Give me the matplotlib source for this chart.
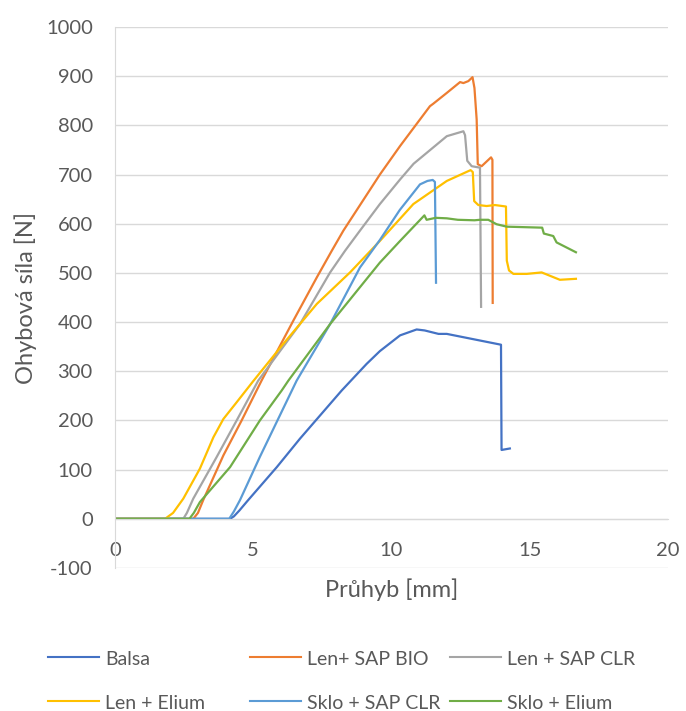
import matplotlib
matplotlib.use("Agg")
import matplotlib.pyplot as plt
from matplotlib.lines import Line2D

plt.rcParams['font.family'] = ['Lato', 'DejaVu Sans']
plt.rcParams['axes.unicode_minus'] = False

# hodnoty: prumyb [mm] a ohybova sila [N]
balsa_x = [0, 4.16, 4.3, 4.5, 4.8, 5.85, 6.69, 8.2, 9.1, 9.58, 10.31, 10.91, 11.2, 11.7, 12.0, 13.96, 13.98, 14.28]
balsa_y = [0, 0, 5, 17, 37, 105, 163, 261, 315, 341, 373, 385, 383, 376, 376, 354, 140, 143]

bio_x = [0, 2.83, 3.0, 3.19, 3.92, 4.58, 5.3, 6.45, 7.3, 7.84, 8.26, 9.58, 10.31, 11.39, 11.51, 12.0,
         12.48, 12.6, 12.78, 12.93, 13.0, 13.08, 13.12, 13.26, 13.6, 13.65, 13.66]
bio_y = [0, 0, 12, 38, 129, 200, 281, 403, 491, 545, 586, 700, 758, 839, 844, 866,
         888, 886, 890, 898, 876, 812, 721, 717, 735, 730, 439]

clr_x = [0, 2.47, 2.6, 2.83, 3.68, 4.4, 5.18, 6.69, 7.78, 8.32, 8.86, 9.58, 10.31, 10.8, 12.0,
         12.6, 12.66, 12.74, 12.9, 13.2, 13.24]
clr_y = [0, 0, 12, 41, 126, 200, 281, 396, 501, 545, 586, 640, 690, 722, 778,
         788, 780, 728, 717, 714, 431]

elium_x = [0, 1.81, 2.1, 2.47, 3.07, 3.56, 3.92, 4.4, 5.0, 6.09, 7.3, 8.5, 9.58, 10.79, 12.0,
           12.86, 12.94, 12.99, 13.14, 13.44, 13.74, 14.14, 14.17, 14.25, 14.41, 14.89, 15.43, 16.09, 16.67]
elium_y = [0, 0, 12, 41, 102, 166, 203, 237, 280, 356, 437, 501, 565, 640, 687,
           709, 705, 646, 638, 636, 638, 635, 525, 505, 498, 498, 501, 486, 488]

sklo_clr_x = [0, 4.13, 4.3, 4.52, 5.24, 6.57, 7.78, 8.86, 9.58, 10.3, 11.03, 11.3, 11.49, 11.57, 11.61]
sklo_clr_y = [0, 0, 15, 38, 126, 281, 396, 511, 567, 628, 680, 687, 689, 685, 480]

sklo_el_x = [0, 2.69, 2.85, 3.07, 4.16, 5.24, 6.03, 6.27, 7.78, 8.86, 9.58, 10.31, 11.19, 11.27, 11.6,
             12.0, 12.4, 13.0, 13.2, 13.5, 13.8, 14.17, 15.45, 15.51, 15.85, 15.97, 16.67]
sklo_el_y = [0, 0, 12, 34, 105, 200, 261, 281, 396, 471, 521, 565, 617, 608, 612,
             611, 608, 607, 608, 608, 599, 594, 592, 580, 575, 562, 542]

nazvy = ['Balsa', 'Len+ SAP BIO', 'Len + SAP CLR', 'Len + Elium', 'Sklo + SAP CLR', 'Sklo + Elium']
barvy = ['#4472C4', '#ED7D31', '#A5A5A5', '#FFC000', '#5B9BD5', '#70AD47']
serie = [(balsa_x, balsa_y), (bio_x, bio_y), (clr_x, clr_y), (elium_x, elium_y),
         (sklo_clr_x, sklo_clr_y), (sklo_el_x, sklo_el_y)]

W, H = 686, 711
sed = '#595959'
fs = 14.5
fs_leg = 14
fs_titul = 17

fig = plt.figure(figsize=(W / 100, H / 100), dpi=100)
ax = fig.add_axes([115 / W, 1 - 568 / H, (668 - 115) / W, (568 - 27) / H])

for (x, y), c, n in zip(serie, barvy, nazvy):
    ax.plot(x, y, color=c, lw=1.6, label=n)

ax.set_xlim(0, 20)
ax.set_ylim(-100, 1000)
ax.set_xticks(range(0, 21, 5))
ax.set_yticks(range(-100, 1001, 100))
ax.grid(axis='y', color='#D9D9D9', lw=1)
ax.set_axisbelow(True)

for s in ['top', 'right']:
    ax.spines[s].set_visible(False)
ax.spines['left'].set_color('#D9D9D9')
ax.spines['bottom'].set_color('#D9D9D9')
ax.spines['bottom'].set_position(('data', 0))

ax.tick_params(axis='both', length=0, labelsize=fs, labelcolor=sed)
ax.tick_params(axis='x', pad=17)
ax.tick_params(axis='y', pad=16)

ax.set_xlabel('Průhyb [mm]', fontsize=fs_titul, color=sed)
ax.xaxis.set_label_coords(0.5, (568 - 578) / 541)
ax.set_ylabel('Ohybová síla [N]', fontsize=fs_titul, color=sed)
ax.yaxis.set_label_coords((37 - 115) / 553, 0.5)

# legenda pod grafem, 2 radky po 3
sloupce = [48, 250, 450]
radky = [657, 701]
for i, (n, c) in enumerate(zip(nazvy, barvy)):
    x0 = sloupce[i % 3]
    y0 = radky[i // 3]
    fig.add_artist(Line2D([x0 / W, (x0 + 51) / W], [1 - y0 / H, 1 - y0 / H], color=c, lw=1.5))
    fig.text((x0 + 57) / W, 1 - (y0 + 8) / H, n, fontsize=fs_leg, color=sed, va='baseline')

fig.savefig('out.png', dpi=100)
